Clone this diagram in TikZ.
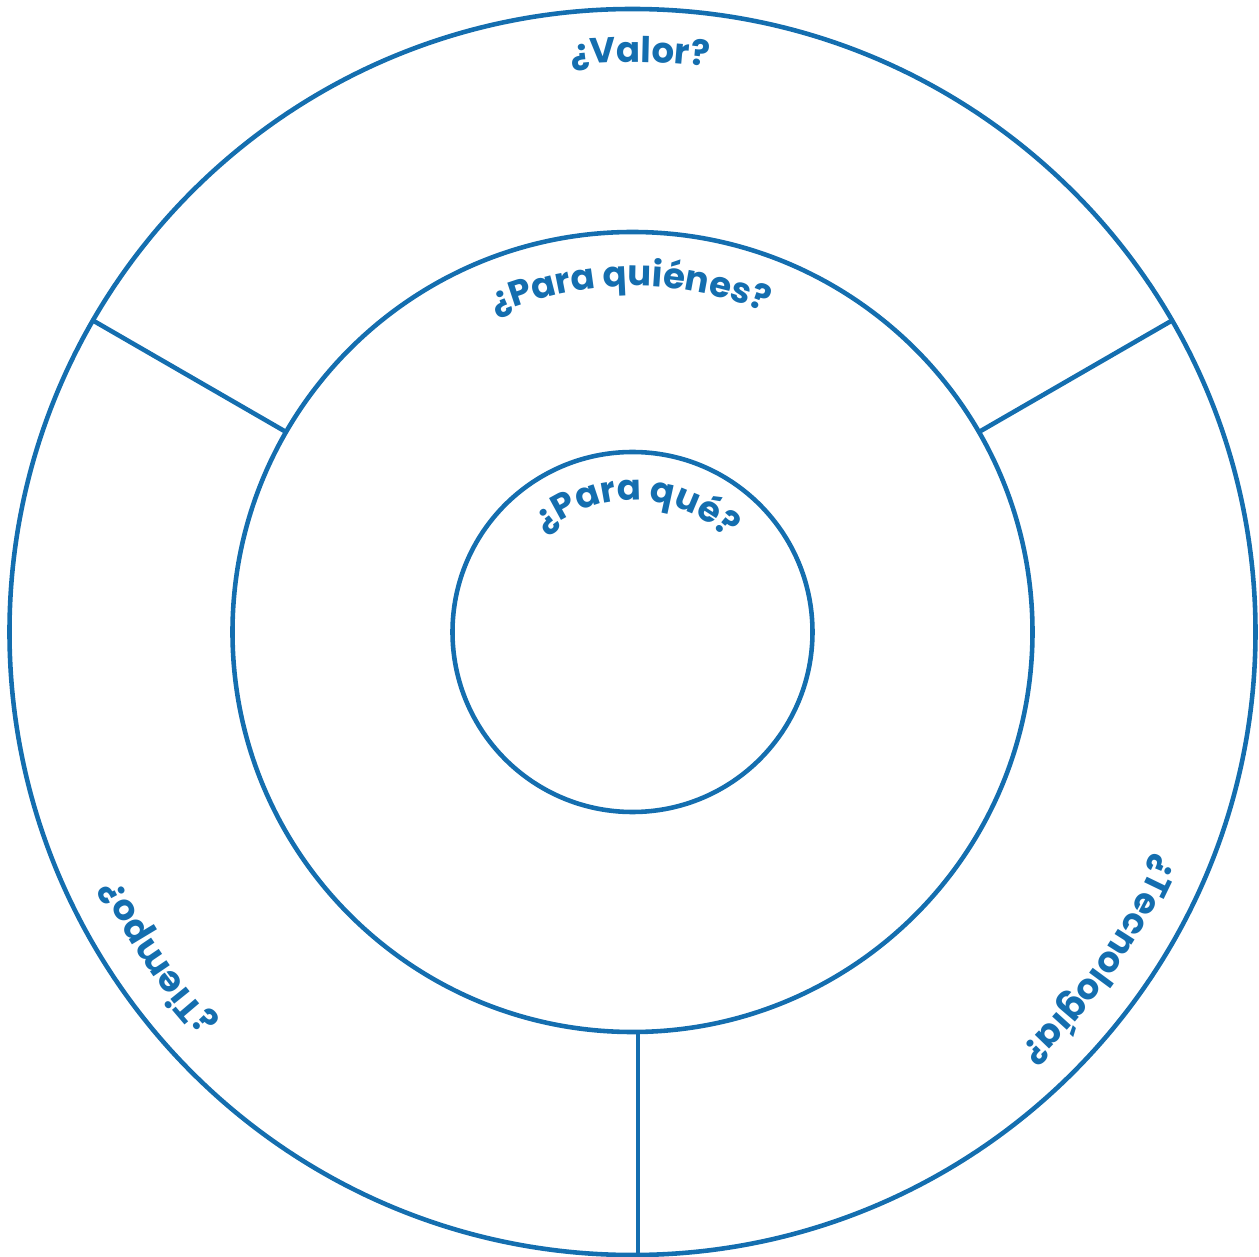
\documentclass[tikz,border=0pt]{standalone}
\usepackage{fontspec}
\newfontfamily\qfont{Poppins}
\usetikzlibrary{decorations.text}
\definecolor{ringblue}{RGB}{20,110,175}

\begin{document}
\begin{tikzpicture}[
    ring/.style={draw=ringblue, line width=1.3pt},
    qlabel/.style={decorate, decoration={text along path, text align=center, text color=ringblue,
        text={|\qfont\bfseries\fontsize{10.1}{12}\selectfont|#1}}}
]
\useasboundingbox (-6.325,-6.24) rectangle (6.265,6.32);
\coordinate (c) at (0,0);

% three rings
\draw[ring] (c) circle[radius=6.23];
\draw[ring] (c) circle[radius=4.00];
\draw[ring] (c) circle[radius=1.80];

% dividers of the outer ring
\coordinate (lin) at (150:4.00);
\coordinate (lout) at (150:6.23);
\coordinate (rin) at (30:4.00);
\coordinate (rout) at (30:6.23);
\coordinate (bin) at (0.055,-4.00);
\coordinate (bout) at (0.055,-6.23);
\draw[ring] (lin) -- (lout);
\draw[ring] (rin) -- (rout);
\draw[ring] (bin) -- (bout);

% labels along the rings
\path[qlabel={¿Valor?}] (135:5.70) arc[start angle=135, end angle=43.5, radius=5.70];
\path[qlabel={¿Para quiénes?}] (135.4:3.46) arc[start angle=135.4, end angle=45.4, radius=3.46];
\path[qlabel={¿Para qué?}] (178:1.32) arc[start angle=178, end angle=-2, radius=1.32];
\path[qlabel={¿Tiempo?}] (240:5.70) arc[start angle=240, end angle=189, radius=5.70];
\path[qlabel={¿Tecnología?}] (350:5.70) arc[start angle=350, end angle=300, radius=5.70];
\end{tikzpicture}
\end{document}
